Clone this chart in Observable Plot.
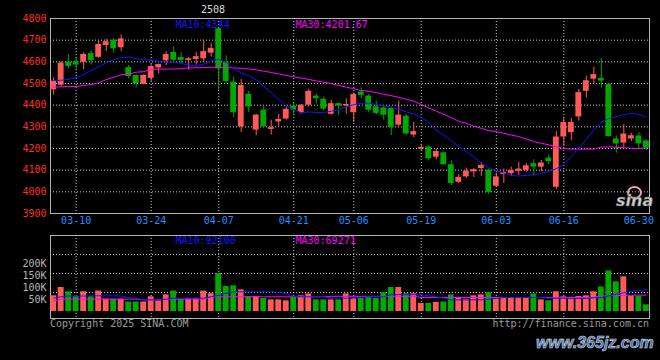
<!DOCTYPE html>
<html><head><meta charset="utf-8">
<script src="https://cdn.jsdelivr.net/npm/d3@7"></script>
<script src="https://cdn.jsdelivr.net/npm/@observablehq/plot@0.6"></script>
<style>
html,body{margin:0;padding:0;background:#000;}
#wrap{position:relative;width:660px;height:360px;background:#000;overflow:hidden;font-family:"DejaVu Sans Mono",monospace;}
#price{position:absolute;left:0;top:0;}
#vol{position:absolute;left:0;top:228px;}
.t{position:absolute;white-space:nowrap;font-size:10px;line-height:12px;}
</style></head><body>
<div id="wrap">
  <div id="price"></div>
  <div id="vol"></div>
  <div class="t" style="left:201px;top:4px;color:#dcdcdc;">2508</div>
  <div class="t" style="left:50px;top:318px;color:#9a9a9a;">Copyright 2025 SINA.COM</div>
  <div class="t" style="right:11px;top:318px;color:#9a9a9a;">http://finance.sina.com.cn</div>
  <div style="position:absolute;left:627px;top:186px;width:11px;height:9px;border:2px solid #f0a0b0;border-radius:50%;"></div>
  <div style="position:absolute;left:616px;top:191px;font:italic bold 16px 'DejaVu Sans',sans-serif;color:#cfcfcf;-webkit-text-stroke:0.5px #666;">sina</div>
  <div style="position:absolute;left:536px;top:334px;font:italic bold 16px 'Liberation Sans',sans-serif;color:#3f6a9e;-webkit-text-stroke:0.6px #d8dde8;">www.365jz.com</div>
</div>
<script>
const dates = ["03-05","03-06","03-07","03-10","03-11","03-12","03-13","03-14","03-17","03-18","03-19","03-20","03-21","03-24","03-25","03-26","03-27","03-28","03-31","04-01","04-02","04-03","04-07","04-08","04-09","04-10","04-11","04-14","04-15","04-16","04-17","04-18","04-21","04-22","04-23","04-24","04-25","04-28","04-29","04-30","05-06","05-07","05-08","05-09","05-12","05-13","05-14","05-15","05-16","05-19","05-20","05-21","05-22","05-23","05-26","05-27","05-28","05-29","05-30","06-03","06-04","06-05","06-06","06-09","06-10","06-11","06-12","06-13","06-16","06-17","06-18","06-19","06-20","06-23","06-24","06-25","06-26","06-27","06-30","07-01"];
const open  = [4471,4492,4598,4600,4598,4638,4621,4675,4700,4665, 4573,4537,4496,4524,4572,4605,4643,4620,4606,4611, 4614,4640,4753,4598,4506,4300,4450,4285,4377,4288, 4323,4336,4395,4366,4400,4442,4427,4358,4407,4397, 4365,4461,4442,4392,4387,4384,4308,4349,4262,4198, 4207,4160,4180,4125,4044,4069,4092,4107,4100,4026, 4080,4084,4095,4099,4130,4114,4156,4021,4253,4273, 4346,4464,4520,4524,4496,4244,4225,4244,4258,4235];
const high  = [4527,4601,4633,4620,4642,4651,4697,4705,4707,4724, 4583,4540,4540,4588,4590,4647,4669,4643,4620,4645, 4700,4684,4753,4628,4529,4519,4464,4358,4397,4331, 4358,4392,4408,4403,4473,4452,4438,4422,4410,4430, 4457,4480,4449,4418,4400,4392,4418,4357,4321,4220, 4212,4197,4182,4143,4079,4110,4107,4136,4105,4087, 4105,4114,4136,4131,4148,4145,4171,4278,4339,4339, 4473,4534,4575,4616,4499,4258,4311,4270,4273,4239];
const low   = [4447,4485,4568,4558,4563,4585,4617,4648,4640,4647, 4521,4479,4494,4506,4545,4583,4592,4592,4560,4585, 4600,4622,4468,4499,4342,4273,4365,4259,4298,4262, 4300,4331,4350,4358,4392,4405,4374,4354,4354,4358, 4320,4430,4365,4354,4331,4260,4300,4262,4250,4189, 4143,4148,4123,4029,4038,4061,4067,4072,3988,4021, 4038,4072,4076,4090,4072,4092,4125,4011,4209,4235, 4326,4434,4499,4479,4252,4178,4204,4232,4194,4191];
const close = [4511,4594,4579,4585,4634,4605,4680,4693,4660,4706, 4532,4499,4537,4578,4588,4634,4607,4606,4614,4624, 4647,4662,4567,4509,4365,4491,4392,4354,4300,4296, 4334,4381,4377,4400,4464,4430,4382,4407,4396,4403, 4449,4445,4377,4362,4354,4297,4354,4267,4278,4205, 4153,4186,4125,4038,4067,4095,4102,4122,3996,4069, 4090,4098,4105,4120,4114,4133,4139,4253,4320,4320, 4458,4513,4541,4511,4255,4221,4267,4259,4221,4201];
const ma10  = [4514,4515,4519,4528,4540,4560,4578,4595,4610,4619, 4622,4615,4609,4609,4602,4599,4598,4593,4586,4581, 4589,4604,4612,4598,4567,4549,4537,4517,4488,4458, 4427,4397,4380,4365,4369,4366,4366,4372,4380,4392, 4403,4409,4409,4403,4397,4390,4381,4369,4360,4343, 4320,4285,4262,4235,4209,4186,4160,4133,4110,4098, 4087,4076,4073,4076,4079,4085,4095,4107,4125,4163, 4201,4243,4285,4323,4339,4346,4357,4361,4358,4344];
const ma30  = [4483,4485,4486,4486,4491,4495,4503,4518,4529,4540, 4544,4552,4555,4564,4567,4566,4567,4569,4572,4573, 4573,4575,4575,4573,4572,4570,4567,4563,4557,4551, 4544,4537,4531,4525,4519,4512,4506,4499,4491,4483, 4476,4468,4464,4458,4450,4444,4436,4427,4418,4403, 4387,4372,4358,4342,4326,4316,4303,4293,4282,4278, 4270,4262,4255,4244,4232,4224,4217,4207,4200,4197, 4197,4197,4197,4206,4207,4206,4204,4201,4200,4202];
// volumes in thousands (K)
const volumeK = [66,101,83,63,83,62,86,52,52,52, 40,40,40,62,45,70,86,52,55,55, 86,75,160,105,108,91,63,63,55,49, 49,45,59,66,74,49,49,49,49,74, 52,55,59,55,79,101,101,75,75,34, 34,38,40,70,59,52,66,70,79,59, 59,59,55,55,74,49,45,83,62,59, 63,66,83,103,171,125,146,63,63,28];
const volMa10K = [56,62,65,65,65,66,66,66,66,65, 59,56,49,49,49,52,56,56,56,56, 56,62,68,76,83,83,83,83,83,83, 81,76,65,62,62,62,62,56,56,56, 59,59,62,62,62,71,71,71,71,71, 66,62,56,49,49,49,49,49,52,55, 59,59,59,59,59,59,56,56,56,55, 55,55,58,59,66,73,79,85,88,92.1];
const volMa30K = [45,52,52,52,52,52,52,52,52,52, 52,52,49,49,49,52,52,52,52,52, 52,62,62,62,62,62,62,62,62,62, 62,62,62,62,62,62,62,64,64,64, 64,64,64,64,64,64,64,64,64,59, 59,59,59,59,59,59,59,59,59,59, 59,59,59,59,59,59,59,59,59,59, 59,59,59,65,66,67,68,68,69,69.3];
const priceTicks = [3900,4000,4100,4200,4300,4400,4500,4600,4700,4800];
const dateTicks = ["03-10","03-24","04-07","04-21","05-06","05-19","06-03","06-16","06-30"];
const gridDates = ["03-10","03-24","04-07","04-21","05-06","05-19","06-03","06-16"];
const volTicks = [50000,100000,150000,200000];
const volGrid = [80000,160000,240000];
const priceMaLabels = ["MA10:4344","MA30:4201.67"];
const volMaLabels = ["MA10:92100","MA30:69271"];

const rows = dates.map((date,i)=>({date, open:open[i], high:high[i], low:low[i], close:close[i],
  ma10:ma10[i], ma30:ma30[i], volume:volumeK[i]*1000, volMa10:volMa10K[i]*1000, volMa30:volMa30K[i]*1000}));

const RED = "#ff5a5a", GREEN = "#00a800", BLUE = "#1414ff", MAG = "#ff00ff";
const col = d => d.close >= d.open ? RED : GREEN;
const xs = {type:"band", domain:dates, paddingInner:0.22, paddingOuter:0.03, axis:null, label:null};
const font = {background:"#000", color:"#ccc", fontFamily:"'DejaVu Sans Mono', monospace", fontSize:"10px"};
const gridStyle = {stroke:"#c8c8c8", strokeOpacity:1, strokeDasharray:"1,2"};

const price = Plot.plot({
  width:660, height:228, marginLeft:50, marginRight:11, marginTop:18, marginBottom:15,
  style:font,
  x:xs,
  y:{domain:[3900,4800], axis:null, label:null},
  marks:[
    Plot.gridY(priceTicks.slice(1,-1), gridStyle),
    Plot.gridX(gridDates, gridStyle),
    Plot.frame({stroke:"#b4b4b4"}),
    Plot.axisY(priceTicks, {tickSize:0, tickPadding:4, fill:"#ff2a2a", tickFormat:d3.format("d"), label:null}),
    Plot.axisX(dateTicks, {tickSize:0, tickPadding:3, fill:"#1e90ff", label:null}),
    Plot.ruleX(rows, {x:"date", y1:"low", y2:"high", stroke:col}),
    Plot.barY(rows, {x:"date", y1:"open", y2:"close", fill:col}),
    Plot.line(rows, {x:"date", y:"ma30", stroke:MAG, strokeWidth:1}),
    Plot.line(rows, {x:"date", y:"ma10", stroke:BLUE, strokeWidth:1}),
    Plot.text([priceMaLabels[0]], {text:d=>d, frameAnchor:"top-left", dx:125, dy:2, lineAnchor:"top", textAnchor:"start", fill:BLUE}),
    Plot.text([priceMaLabels[1]], {text:d=>d, frameAnchor:"top-left", dx:245, dy:2, lineAnchor:"top", textAnchor:"start", fill:MAG})
  ]
});
document.getElementById("price").append(price);

const vol = Plot.plot({
  width:660, height:92, marginLeft:50, marginRight:11, marginTop:7, marginBottom:2,
  style:font,
  x:xs,
  y:{domain:[0,320000], insetBottom:7, axis:null, label:null},
  marks:[
    Plot.gridY(volGrid, gridStyle),
    Plot.gridX(gridDates, gridStyle),
    Plot.frame({stroke:"#b4b4b4"}),
    Plot.axisY(volTicks, {tickSize:0, tickPadding:4, fill:"#b4b4b4", tickFormat:d=>d/1000+"K", label:null}),
    Plot.barY(rows, {x:"date", y:"volume", fill:col}),
    Plot.line(rows, {x:"date", y:"volMa30", stroke:MAG, strokeWidth:1}),
    Plot.line(rows, {x:"date", y:"volMa10", stroke:BLUE, strokeWidth:1}),
    Plot.text([volMaLabels[0]], {text:d=>d, frameAnchor:"top-left", dx:125, dy:1, lineAnchor:"top", textAnchor:"start", fill:BLUE}),
    Plot.text([volMaLabels[1]], {text:d=>d, frameAnchor:"top-left", dx:245, dy:1, lineAnchor:"top", textAnchor:"start", fill:MAG})
  ]
});
document.getElementById("vol").append(vol);
</script>
</body></html>
